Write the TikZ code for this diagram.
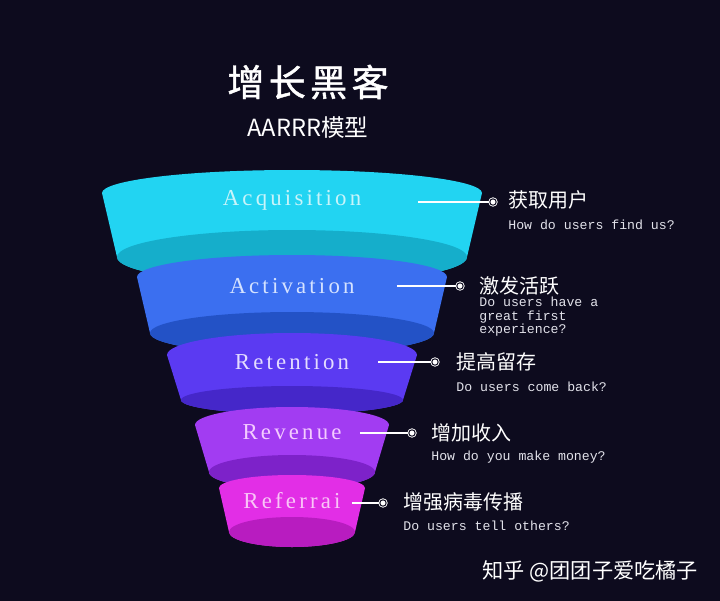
\documentclass[tikz,border=0pt]{standalone}
\usepackage{fontspec}
\setmainfont{Liberation Serif}
\newfontfamily\cjk{Noto Sans CJK SC}
\newfontfamily\cjktitle[LetterSpace=12, FakeBold=1.2]{Noto Sans CJK SC}
\newfontfamily\tierfont[LetterSpace=14]{Liberation Serif}
\newfontfamily\qfont{Liberation Mono}

\definecolor{bgc}{HTML}{0D0B1E}
\definecolor{qgray}{HTML}{E2E2EA}
% tier colours: light body, dark bottom, label text
\definecolor{acqlt}{HTML}{22D4F2}
\definecolor{acqdk}{HTML}{15AECB}
\definecolor{acqtx}{HTML}{C8F4FA}
\definecolor{actlt}{HTML}{3B6FF0}
\definecolor{actdk}{HTML}{2352C6}
\definecolor{acttx}{HTML}{D4E2FF}
\definecolor{retlt}{HTML}{5B3AF2}
\definecolor{retdk}{HTML}{4527C9}
\definecolor{rettx}{HTML}{E4DCFF}
\definecolor{revlt}{HTML}{A23CF2}
\definecolor{revdk}{HTML}{7D22C9}
\definecolor{revtx}{HTML}{F4CCFF}
\definecolor{reflt}{HTML}{E22EE6}
\definecolor{refdk}{HTML}{B81CC0}
\definecolor{reftx}{HTML}{FAC4F8}

\begin{document}
\begin{tikzpicture}[x=0.5pt, y=-0.5pt,
    tierlabel/.style={font=\tierfont\fontsize{11.4}{12}\selectfont, inner sep=0},
    cnlabel/.style={anchor=west, text=white, font=\cjk\fontsize{10}{12}\selectfont, inner sep=0},
    question/.style={anchor=west, text=qgray, font=\qfont\fontsize{6.6}{6.6}\selectfont, inner sep=0, align=left},
    dot/.style={circle, inner sep=0pt, minimum size=3.2pt, fill=white, draw=white, line width=0.45pt, double=bgc, double distance=0.5pt},
    link/.style={white, line width=0.75pt}]
    \fill[bgc] (0,0) rectangle (720,601);
    \useasboundingbox (0,0) rectangle (720,601);

    % title
    \node[text=white, font=\cjktitle\fontsize{18.5}{20}\selectfont] (title) at (308,82) {增长黑客};
    \node[text=white, font=\cjk\fontsize{11.8}{13}\selectfont] (subtitle) at (308,128) {AARRR模型};

    % funnel, top tier first so each tier covers the one above
    \foreach \cx/\ya/\ra/\ha/\yb/\rb/\hb/\lt/\dk in {
        292/193/190/23/257/175/27/acqlt/acqdk,
        292/277/155/22/333/142/21/actlt/actdk,
        292/355/125/22/400/111/14/retlt/retdk,
        292/425/97/18/472/83/17/revlt/revdk,
        292/488/73/13/532/63/15/reflt/refdk}{
        \fill[\lt] ({\cx-\ra},\ya) arc[start angle=180, end angle=360, x radius=\ra, y radius=\ha]
            -- ({\cx+\rb},\yb) arc[start angle=0, end angle=180, x radius=\rb, y radius=\hb] -- cycle;
        \fill[\dk] (\cx,\yb) ellipse[x radius=\rb, y radius=\hb];
    }

    \node[tierlabel, text=acqtx] (acq) at (292,200) {Acquisition};
    \node[tierlabel, text=acttx] (act) at (292,286) {Activation};
    \node[tierlabel, text=rettx] (ret) at (292,362) {Retention};
    \node[tierlabel, text=revtx] (rev) at (292,432) {Revenue};
    \node[tierlabel, text=reftx] (ref) at (292,501) {Referrai};

    % connectors
    \coordinate (acqS) at (418,202);
    \node[dot] (acqD) at (493,202) {};
    \draw[link] (acqS) -- (acqD);
    \coordinate (actS) at (397,286);
    \node[dot] (actD) at (460,286) {};
    \draw[link] (actS) -- (actD);
    \coordinate (retS) at (378,362);
    \node[dot] (retD) at (435,362) {};
    \draw[link] (retS) -- (retD);
    \coordinate (revS) at (360,433);
    \node[dot] (revD) at (412,433) {};
    \draw[link] (revS) -- (revD);
    \coordinate (refS) at (352,503);
    \node[dot] (refD) at (383,503) {};
    \draw[link] (refS) -- (refD);

    % right hand texts
    \node[cnlabel] (acqCN) at (508,200) {获取用户};
    \node[question] (acqQ) at (508,225) {How do users find us?};
    \node[cnlabel] (actCN) at (479,286) {激发活跃};
    \node[question, anchor=north west] (actQ) at (479,297) {Do users have a\\great first\\experience?};
    \node[cnlabel] (retCN) at (456,362) {提高留存};
    \node[question] (retQ) at (456,387) {Do users come back?};
    \node[cnlabel] (revCN) at (431,433) {增加收入};
    \node[question] (revQ) at (431,457) {How do you make money?};
    \node[cnlabel] (refCN) at (403,502) {增强病毒传播};
    \node[question] (refQ) at (403,526) {Do users tell others?};

    % watermark
    \node[text=white, font=\cjk\fontsize{10.6}{12}\selectfont, anchor=west, inner sep=0] (mark) at (482,571) {知乎 @团团子爱吃橘子};
\end{tikzpicture}
\end{document}
